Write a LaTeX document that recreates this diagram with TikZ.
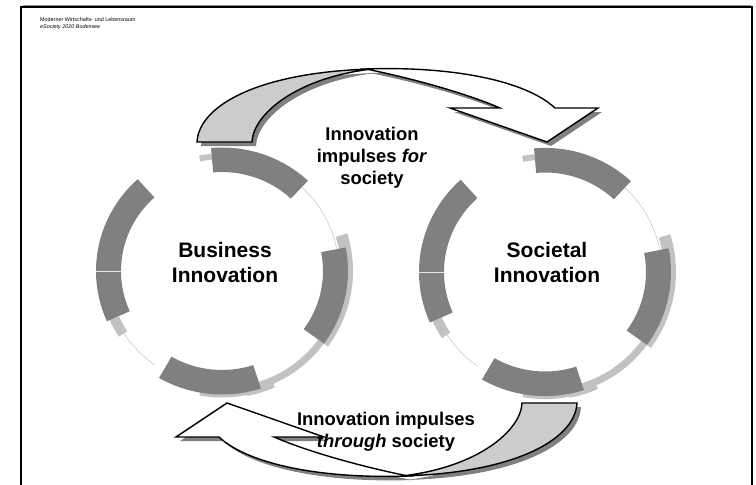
\documentclass[tikz,border=0pt]{standalone}
\usepackage{fontspec}
\setmainfont{Liberation Sans}
\definecolor{segdark}{gray}{0.5}
\definecolor{seglight}{gray}{0.76}
\definecolor{hairgray}{gray}{0.82}
\definecolor{arrowgray}{gray}{0.8}
\definecolor{shadowgray}{gray}{0.5}
\newcommand{\rseg}[5]{\fill[#1] (#2:#5pt) arc[start angle=#2, end angle=#3, radius=#5pt] -- (#3:#4pt) arc[start angle=#3, end angle=#2, radius=#4pt] -- cycle;}
\newcommand{\cyclering}{%
  \draw[hairgray, line width=0.7pt] (8:117pt) arc[start angle=8, end angle=50, radius=117pt];
  \draw[hairgray, line width=0.7pt] (-125:117pt) arc[start angle=-125, end angle=-150, radius=117pt];
  \rseg{seglight}{17}{-36}{119}{131}
  \rseg{seglight}{-36}{-72}{119}{126}
  \rseg{seglight}{-66}{-79}{119}{130}
  \rseg{seglight}{-72}{-100}{119}{129}
  \rseg{seglight}{95}{101}{114}{120}
  \rseg{seglight}{204}{213}{113}{123}
  \rseg{segdark}{47}{95}{101}{126}
  \rseg{segdark}{-36}{11}{101}{126}
  \rseg{segdark}{-120}{-72}{101}{126}
  \rseg{segdark}{132}{204}{101}{126}
  \draw[white!80!gray, line width=0.3pt] (180:101pt) -- (180:126pt);
}
\newcommand{\grayband}[1]{\path[#1] (197,142) -- (252,142) .. controls (253,115) and (295,78) .. (372,69) .. controls (260,72) and (199,105) .. (197,142) -- cycle;}
\newcommand{\whiteband}[1]{\path[#1] (366,69) .. controls (450,66) and (525,80) .. (555,108) -- (598,108) -- (547,142) -- (450,108) -- (500,108) .. controls (470,95) and (420,80) .. (366,69) -- cycle;}
\begin{document}
\begin{tikzpicture}[x=1pt,y=-1pt,
  lbl/.style={font=\fontsize{18.4}{22}\selectfont\bfseries, inner sep=0pt, anchor=base},
  big/.style={font=\fontsize{21}{25}\selectfont\bfseries, inner sep=0pt, anchor=base},
  hdr/.style={font=\fontsize{5.4}{6.5}\selectfont, inner sep=0pt, anchor=base west},
  shad/.style={fill=shadowgray},
  backband/.style={fill=arrowgray, draw=black, line width=1.4pt},
  frontband/.style={fill=white, draw=black, line width=1.4pt}]
\useasboundingbox (0,0) rectangle (756,485);
\fill[white] (0,0) rectangle (756,485);
% frame
\draw[black!45, line width=1pt] (22.5,5.8) -- (751,5.8);
\draw[black, line width=1.6pt] (21,490) -- (21,7) -- (752,7) -- (752,490);
% header
\node[hdr] (h1) at (40,21.5) {Moderner Wirtschafts- und Lebensraum};
\node[hdr, font=\fontsize{5.4}{6.5}\selectfont\itshape] (h2) at (40,28) {eSociety 2020 Bodensee};
% cycles
\begin{scope}[shift={(222,271)}, yscale=0.98] \cyclering \end{scope}
\begin{scope}[shift={(545,272)}, yscale=0.985] \cyclering \end{scope}
% arrow shadows
\begin{scope}[shift={(4,4)}]
  \grayband{shad} \whiteband{shad}
  \begin{scope}[rotate around={180:(387,272.5)}]
    \grayband{shad} \whiteband{shad}
  \end{scope}
\end{scope}
% arrows
\grayband{backband} \whiteband{frontband}
\begin{scope}[rotate around={180:(387,272.5)}]
  \grayband{backband} \whiteband{frontband}
\end{scope}
% labels
\node[big] (b1) at (225,257.3) {Business};
\node[big] (b2) at (225,282.7) {Innovation};
\node[big] (s1) at (547,257.3) {Societal};
\node[big] (s2) at (547,282.7) {Innovation};
\node[lbl] (t1) at (372,140) {Innovation};
\node[lbl] (t2) at (372,162) {impulses \textit{for}};
\node[lbl] (t3) at (372,184) {society};
\node[lbl] (u1) at (386,425) {Innovation impulses};
\node[lbl] (u2) at (386,447) {\textit{through} society};
\end{tikzpicture}
\end{document}
